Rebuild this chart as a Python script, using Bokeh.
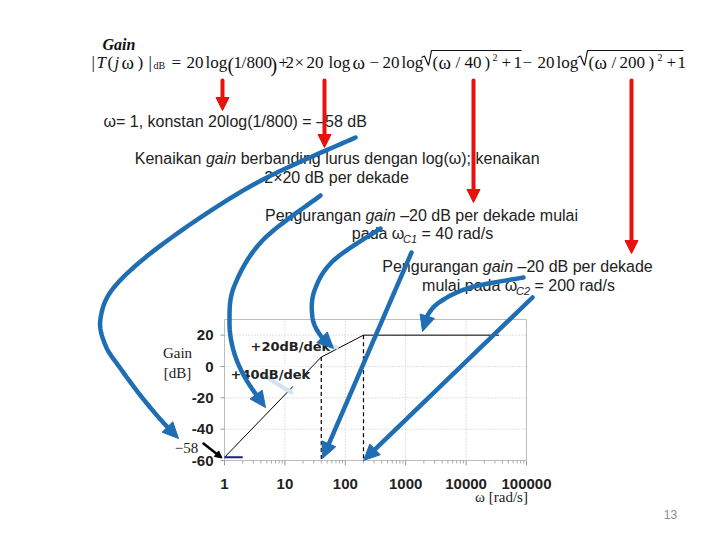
import math
from bokeh.plotting import figure
from bokeh.models import Range1d, LogScale
from bokeh.core.properties import value
from bokeh.embed import file_html
from bokeh.resources import INLINE

# ---------------- data ----------------
omega_break = [1, 40, 200, 35000]          # asymptote break points [rad/s]
gain_break = [-58, 6, 20, 20]              # asymptotic gain [dB]
omega_const = [1, 2]                       # constant term (20 log 1/800)
gain_const = [-58, -58]
corner_omega = [40, 200]                   # corner frequencies wC1, wC2
corner_gain = [6, 20]
x_ticks = [1, 10, 100, 1000, 10000, 100000]
x_tick_labels = ["1", "10", "100", "1000", "10000", "100000"]
y_ticks = [-60, -40, -20, 0, 20]
y_tick_labels = ["-60", "-40", "-20", "0", "20"]
x_limits = [1, 100000]
y_limits = [-60, 30]
slope_labels = ["+20dB/dek", "+40dB/dek"]

# ---------------- layout (page pixels) ----------------
W, H = 704, 524
OX, OY = 0, 0
FL, FR, FT, FB = 224, 526, 319, 460       # chart plot area on the page

SANS = "Liberation Sans"
SERIF = "Liberation Serif"
TXT = "#222222"
BLUE = "#1f6eb4"
RED = "#e8120c"

dec_px = (FR - FL) / math.log10(x_limits[1] / x_limits[0])
db_px = (FB - FT) / (y_limits[1] - y_limits[0])
w_lo = 10 ** (math.log10(x_limits[0]) + (OX - FL) / dec_px)
w_hi = 10 ** (math.log10(x_limits[0]) + (OX + W - FL) / dec_px)
db_lo = y_limits[0] - (OY + H - FB) / db_px
db_hi = y_limits[1] + (FT - OY) / db_px

p = figure(width=W, height=H, x_range=Range1d(OX, OX + W), y_range=Range1d(OY + H, OY),
           x_axis_type=None, y_axis_type=None, toolbar_location=None,
           output_backend="svg", min_border=0, outline_line_color=None)
p.extra_x_ranges = {"w": Range1d(w_lo, w_hi)}
p.extra_x_scales = {"w": LogScale()}
p.extra_y_ranges = {"db": Range1d(db_lo, db_hi)}
p.background_fill_color = "white"
p.border_fill_color = "white"

CH = dict(x_range_name="w", y_range_name="db")


def txt(x, y, s, size=16, font=SANS, style="normal", color=TXT, align="left",
        baseline="middle", **kw):
    p.text(x=[x], y=[y], text=[s], text_font=value(font), text_font_size=value(f"{size}px"),
           text_font_style=style, text_color=color, text_align=align,
           text_baseline=baseline, **kw)


# Arial-metric widths for composing mixed-style lines
AW = {' ': 278, '(': 333, ')': 333, ',': 278, '-': 333, '.': 278, '/': 278, ':': 278,
      ';': 278, '=': 584, '+': 584, '–': 556, '−': 584, '×': 584, 'ω': 700}
for c in "0123456789":
    AW[c] = 556
AW.update(dict(a=556, b=556, c=500, d=556, e=556, f=278, g=556, h=556, i=222, j=222, k=500,
               l=222, m=833, n=556, o=556, p=556, q=556, r=333, s=500, t=278, u=556, v=500,
               w=722, x=500, y=500, z=500))
AW.update(dict(A=667, B=667, C=722, D=722, E=667, F=611, G=778, H=722, I=278, J=500, K=667,
               L=556, M=833, N=722, O=778, P=667, Q=778, R=722, S=667, T=611, U=722, V=667,
               W=944, X=667, Y=667, Z=611))


def tw(s, size):
    return sum(AW.get(c, 556) for c in s) * size / 1000.0


def rich(cx, y, segs, size=16):
    parts = []
    for seg in segs:
        t, st = seg[0], seg[1]
        sz = seg[2] if len(seg) > 2 else size
        dy = seg[3] if len(seg) > 3 else 0
        parts.append((t, st, sz, dy))
    total = sum(tw(t, sz) for t, st, sz, dy in parts)
    x = cx - total / 2
    for t, st, sz, dy in parts:
        lead = len(t) - len(t.lstrip(" "))
        txt(x + tw(" " * lead, sz), y + dy, t.strip(" "), size=sz, style=st)
        x += tw(t, sz)


# ---------------- chart ----------------
p.quad(left=[x_limits[0]], right=[x_limits[1]], bottom=[y_limits[0]], top=[y_limits[1]],
       fill_color="white", line_color="#bdbdbd", line_width=1, **CH)
gx = x_ticks[1:-1]
p.segment(x0=gx, y0=[y_limits[0]] * len(gx), x1=gx, y1=[y_limits[1]] * len(gx),
          line_color="#c4c4c4", line_dash="1 2", line_width=1, **CH)
gy = y_ticks[1:]
p.segment(x0=[x_limits[0]] * len(gy), y0=gy, x1=[x_limits[1]] * len(gy), y1=gy,
          line_color="#c4c4c4", line_dash="1 2", line_width=1, **CH)
# tick marks
p.segment(x0=[FL - 4] * len(y_ticks), x1=[FL] * len(y_ticks), y0=y_ticks, y1=y_ticks,
          line_color="#9a9a9a", y_range_name="db")
p.segment(x0=x_ticks, x1=x_ticks, y0=[FB] * len(x_ticks), y1=[FB + 5] * len(x_ticks),
          line_color="#9a9a9a", x_range_name="w")
minor = [k * x_ticks[i] for i in range(len(x_ticks) - 1) for k in range(2, 10)]
p.segment(x0=minor, x1=minor, y0=[FB] * len(minor), y1=[FB + 3] * len(minor),
          line_color="#a8a8a8", x_range_name="w")
# tick labels
p.text(x=x_ticks, y=[FB + 23] * len(x_ticks), text=x_tick_labels, x_range_name="w",
       text_font=value(SANS), text_font_size=value("15px"), text_font_style="bold",
       text_color=TXT, text_align="center", text_baseline="middle")
p.text(x=[FL - 11] * len(y_ticks), y=y_ticks, text=y_tick_labels, y_range_name="db",
       text_font=value(SANS), text_font_size=value("15px"), text_font_style="bold",
       text_color=TXT, text_align="right", text_baseline="middle")

# asymptotic gain
p.line(omega_break, gain_break, line_color="black", line_width=1, **CH)
p.line(omega_const, gain_const, line_color="#1c1c8a", line_width=2, **CH)
p.segment(x0=corner_omega, y0=corner_gain, x1=corner_omega, y1=[y_limits[0]] * 2,
          line_color="black", line_dash="4 3", line_width=1.2, **CH)

# white box behind slope label, faint ghost arrows, slope labels
p.quad(left=[229], right=[302], top=[366], bottom=[386], fill_color="white", line_color=None)
p.line([263, 291], [375, 392], line_color="#cfe4f1", line_width=4, line_cap="round")
p.line([321, 336], [341, 347], line_color="#cfe4f1", line_width=4, line_cap="round")
txt(250, 346, slope_labels[0], size=13, font="DejaVu Sans", style="bold")
txt(230, 374, slope_labels[1], size=13, font="DejaVu Sans", style="bold")

# axis captions
txt(177, 352, "Gain", size=15, font=SERIF, align="center")
txt(177, 372, "[dB]", size=15, font=SERIF, align="center")
txt(186, 447, "−58", size=15, font=SERIF, align="center")
txt(501, 496, "ω [rad/s]", size=15, font=SERIF, align="center")
txt(670, 514, "13", size=12, color="#8c8c8c", align="center")

# ---------------- formula ----------------
BL = 62
FC = "#111111"
fp = [(91, "|", "normal", 17), (96, "T", "italic", 17), (107, "(", "normal", 17),
      (114, "j", "italic", 17), (121, "ω", "normal", 19), (137, ")", "normal", 17),
      (148, "|", "normal", 17),
      (171, "=", "normal", 17), (186, "20", "normal", 17), (205, "log", "normal", 17),
      (233, "1", "normal", 17), (241, "/", "normal", 17), (246, "800", "normal", 17),
      (278, "+", "normal", 17), (285, "2", "normal", 17), (294, "×", "normal", 17),
      (306, "20", "normal", 17), (328, "log", "normal", 17), (352, "ω", "normal", 19),
      (369, "−", "normal", 17), (382, "20", "normal", 17), (401, "log", "normal", 17),
      (432, "(", "normal", 17), (438, "ω", "normal", 19), (455, "/", "normal", 17),
      (464, "40", "normal", 17), (484, ")", "normal", 17), (501, "+", "normal", 17),
      (513, "1", "normal", 17),
      (522, "−", "normal", 17), (537, "20", "normal", 17), (556, "log", "normal", 17),
      (588, "(", "normal", 17), (594, "ω", "normal", 19), (611, "/", "normal", 17),
      (619, "200", "normal", 17), (648, ")", "normal", 17), (666, "+", "normal", 17),
      (677, "1", "normal", 17)]
for x, s, st, sz in fp:
    txt(x, BL, s, size=sz, font=SERIF, style=st, baseline="alphabetic", color=FC)
txt(153, BL + 3, "dB", size=10, font=SERIF, baseline="alphabetic", color=FC)
txt(227, BL + 2, "(", size=20, font=SERIF, baseline="alphabetic", color=FC)
txt(270, BL + 2, ")", size=20, font=SERIF, baseline="alphabetic", color=FC)
txt(492, BL - 5, "2", size=10, font=SERIF, baseline="alphabetic", color=FC)
txt(657, BL - 5, "2", size=10, font=SERIF, baseline="alphabetic", color=FC)
for x0, x1 in [(421, 521), (577, 683)]:
    p.line([x0, x0 + 3, x0 + 7, x0 + 10, x1], [57, 55.5, 65, 50, 50],
           line_color=FC, line_width=1.2)
txt(102, 44, "Gain", size=16, font=SERIF, style="bold italic", baseline="alphabetic",
    color=FC)

# ---------------- explanatory texts ----------------
txt(103, 121, "ω= 1, konstan 20log(1/800) = –58 dB")
rich(336, 158, [("Kenaikan ", "normal"), ("gain", "italic"),
                (" berbanding lurus dengan log(ω); kenaikan", "normal")])
rich(336, 177, [("2×20 dB per dekade", "normal")])
rich(421, 215, [("Pengurangan ", "normal"), ("gain", "italic"),
                (" –20 dB per dekade mulai", "normal")])
rich(422, 233, [("pada ω", "normal"), ("C1", "italic", 11, 5), (" = 40 rad/s", "normal")])
rich(517, 266, [("Pengurangan ", "normal"), ("gain", "italic"),
                (" –20 dB per dekade", "normal")])
rich(518, 285, [("mulai pada ω", "normal"), ("C2", "italic", 11, 5),
                (" = 200 rad/s", "normal")])


# ---------------- arrows ----------------
def catmull(pts, n=14):
    P = [pts[0]] + list(pts) + [pts[-1]]
    out = []
    for i in range(1, len(P) - 2):
        p0, p1, p2, p3 = P[i - 1], P[i], P[i + 1], P[i + 2]
        for k in range(n):
            t = k / n
            t2, t3 = t * t, t * t * t
            pt = []
            for a in range(2):
                pt.append(0.5 * (2 * p1[a] + (-p0[a] + p2[a]) * t
                                 + (2 * p0[a] - 5 * p1[a] + 4 * p2[a] - p3[a]) * t2
                                 + (-p0[a] + 3 * p1[a] - 3 * p2[a] + p3[a]) * t3))
            out.append(tuple(pt))
    out.append(tuple(pts[-1]))
    return out


def arrow(pts, color, width, L, Wd):
    curve = catmull(pts) if len(pts) > 2 else [tuple(q) for q in pts]
    tip = curve[-1]
    i = len(curve) - 2
    while i > 0 and math.hypot(curve[i][0] - tip[0], curve[i][1] - tip[1]) < L:
        i -= 1
    prev = curve[i]
    d = (tip[0] - prev[0], tip[1] - prev[1])
    m = math.hypot(*d)
    d = (d[0] / m, d[1] / m)
    base = (tip[0] - L * d[0], tip[1] - L * d[1])
    body = curve[:i + 1] + [base]
    p.line([q[0] for q in body], [q[1] for q in body], line_color=color, line_width=width,
           line_cap="round", line_join="round")
    nx, ny = -d[1], d[0]
    p.patch([tip[0], base[0] + nx * Wd / 2, base[0] - nx * Wd / 2],
            [tip[1], base[1] + ny * Wd / 2, base[1] - ny * Wd / 2],
            fill_color=color, line_color=color, line_width=1)


# red arrows from the formula terms
for x, y1 in [(222, 110), (324, 147), (473, 202), (631, 253)]:
    arrow([(x, 80), (x, y1)], RED, 4, 13, 13)

# black pointer to the -58 dB start
arrow([(203, 443), (221.5, 457.5)], "black", 2.5, 7, 7)

# blue arrows
blue_paths = [
    [(355, 137), (255, 183), (167, 240), (115, 285), (100, 318), (105, 345), (120, 368),
     (140, 395), (160, 419), (178, 438)],
    [(320, 195), (262, 240), (234, 285), (229, 320), (233, 350), (245, 378), (265, 407)],
    [(380, 228), (333, 260), (314, 290), (312, 317), (320, 335), (333, 348)],
    [(411, 252), (322, 458)],
    [(523, 277), (470, 287), (440, 301), (427, 315), (422, 331)],
    [(532, 297), (363, 460)],
]
for path in blue_paths:
    arrow(path, BLUE, 4.5, 16, 15)

open("out.html", "w").write(file_html(p, INLINE))
